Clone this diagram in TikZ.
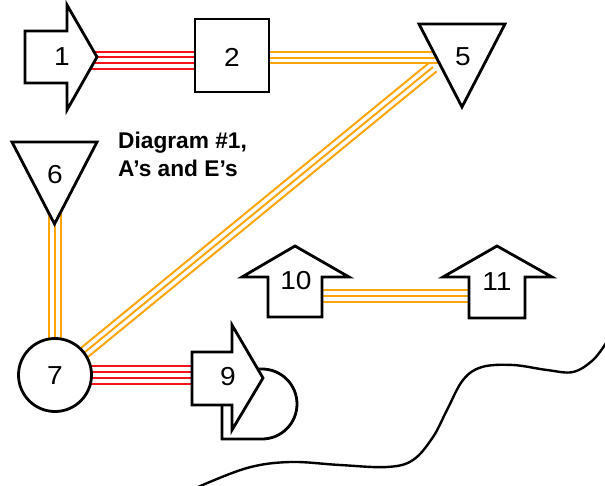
\documentclass[tikz,border=0pt]{standalone}
\usepackage{fontspec}
\setmainfont{Liberation Sans}
\usetikzlibrary{calc}
\definecolor{cableorange}{RGB}{255,165,10}
\definecolor{cablered}{RGB}{245,20,25}
% slightly widened lettering
\newcommand\widen[1]{\scalebox{1.08}[1]{#1}}
% bundle of parallel strands: colour, from, to, list of offsets
\newcommand\cable[4]{%
  \foreach \off in {#4}{%
    \draw[#1, line width=2pt] ($(#2)!\off pt!90:(#3)$) -- ($(#3)!\off pt!-90:(#2)$);}}
\tikzset{
  outline/.style={draw=black, line width=2.8pt, fill=white, line join=miter},
  lbl/.style={font=\fontsize{26}{30}\selectfont, inner sep=0pt},
  title/.style={font=\bfseries\fontsize{22.7}{26}\selectfont, inner sep=0pt, anchor=base west},
}
\begin{document}
\begin{tikzpicture}[x=1pt, y=-1pt]
\useasboundingbox (0,0) rectangle (605,485);

% connector end points
\coordinate (r12a) at (88,60.3);   \coordinate (r12b) at (200,60.3);
\coordinate (o25a) at (262,57.5);  \coordinate (o25b) at (445,57.5);
\coordinate (o57a) at (433,67);    \coordinate (o57b) at (70,364.3);
\coordinate (o67a) at (55,212);    \coordinate (o67b) at (55,350);
\coordinate (r79a) at (80,375);    \coordinate (r79b) at (200,375);
\coordinate (o1011a) at (315,296); \coordinate (o1011b) at (476,296);

% cables
\cable{cablered}{r12a}{r12b}{-8.55,-2.85,2.85,8.55}
\cable{cableorange}{o25a}{o25b}{-5.7,0,5.7}
\cable{cableorange}{o57a}{o57b}{-5.7,0,5.7}
\cable{cableorange}{o67a}{o67b}{-5.7,0,5.7}
\cable{cablered}{r79a}{r79b}{-8.55,-2.85,2.85,8.55}
\cable{cableorange}{o1011a}{o1011b}{-5.7,0,5.7}

% shapes
\draw[outline] (25,31) -- (67,31) -- (67,5) -- (97,57) -- (67,110) -- (67,83) -- (25,83) -- cycle;
\draw[outline] (195,19) rectangle (269,92);
\draw[outline] (419,24) -- (505,24) -- (462,107) -- cycle;
\draw[outline] (12,142) -- (97,142) -- (54.5,224) -- cycle;
\draw[outline] (55,375) circle[radius=36.5];
\draw[outline] (222,369) -- (222,439) -- (262,439) arc[start angle=90, end angle=-90, radius=35] -- cycle;
\draw[outline] (192,352) -- (232,352) -- (232,325) -- (263,378) -- (232,430) -- (232,405) -- (192,405) -- cycle;
\draw[outline] (268,317) -- (268,277) -- (242,277) -- (295,246) -- (349,277) -- (322,277) -- (322,317) -- cycle;
\draw[outline] (469,318) -- (469,277) -- (443,277) -- (497,246) -- (552,277) -- (525,277) -- (525,318) -- cycle;

% boundary curve
\draw[line width=2.4pt, line cap=round] plot[smooth, tension=0.6] coordinates
  {(198,487) (247,468) (290,462) (340,465) (387,467) (413,460) (433,437) (447,410)
   (463,380) (482,367) (513,365) (547,370) (573,372) (593,360) (606,343)};

% labels
\node[lbl] (n1) at (62,57) {\widen{1}};
\node[lbl] (n2) at (232,57) {\widen{2}};
\node[lbl] (n5) at (463,57) {\widen{5}};
\node[lbl] (n6) at (55,175) {\widen{6}};
\node[lbl] (n7) at (55,376) {\widen{7}};
\node[lbl] (n9) at (228,377) {\widen{9}};
\node[lbl] (n10) at (296,281) {\widen{10}};
\node[lbl] (n11) at (497,282) {\widen{11}};

\node[title] (t1) at (118,148) {Diagram \#1,};
\node[title] (t2) at (118,176) {A’s and E’s};
\end{tikzpicture}
\end{document}
